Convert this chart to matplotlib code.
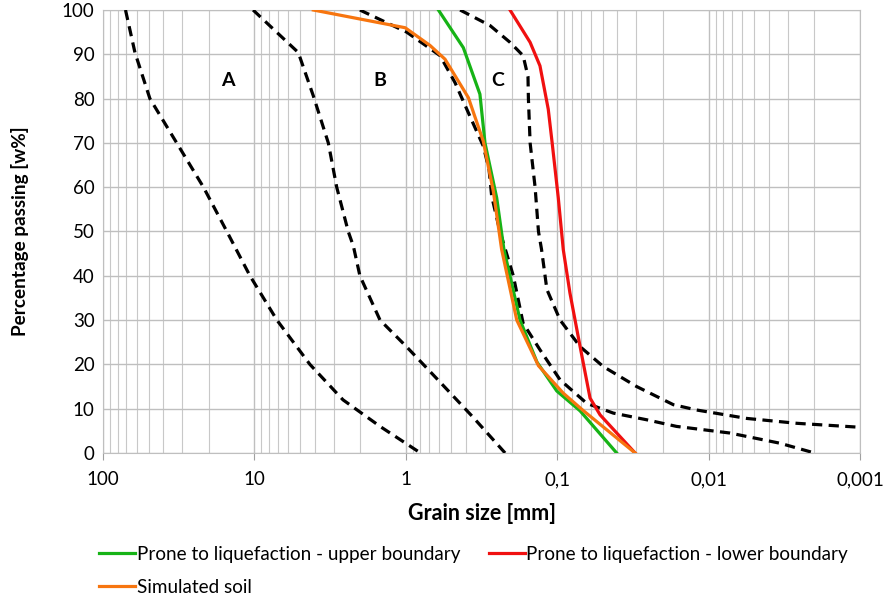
import numpy as np
import matplotlib
matplotlib.use('Agg')
import matplotlib.pyplot as plt
from matplotlib.ticker import LogLocator, FixedLocator, NullFormatter

plt.rcParams['font.family'] = ['Lato', 'DejaVu Sans']

# grading curves: grain size [mm] and percentage passing [w%]
a_size = [71, 61.5, 49, 32.6, 21.7, 15.2, 10.7, 7.1, 4.3, 2.6, 1.48, 0.80]
a_pass = [100, 90.4, 80, 70, 60, 50, 40, 30, 20, 12, 6, 0]

b_size = [10.2, 7.5, 5.13, 4.08, 3.25, 2.86, 2.40, 2.22, 2.01, 1.48, 0.99, 0.594, 0.358, 0.221]
b_pass = [100, 95.7, 90.4, 80.6, 70, 60, 50, 46.7, 40, 30, 24, 16, 8, 0]

c1_size = [2.01, 0.986, 0.594, 0.473, 0.377, 0.308, 0.282, 0.271, 0.239, 0.195, 0.168,
           0.130, 0.0957, 0.0638, 0.0426, 0.0257, 0.0163, 0.00723, 0.00338, 0.0020]
c1_pass = [100, 95, 89.7, 83.6, 76, 69.3, 64, 58, 50, 40, 29.3,
           23.3, 16.5, 11.2, 9, 7.5, 6, 4.5, 2.2, 0]

c2_size = [0.438, 0.278, 0.205, 0.168, 0.156, 0.155, 0.151, 0.140, 0.133, 0.127, 0.117,
           0.0957, 0.0706, 0.0496, 0.0299, 0.0171, 0.0120, 0.0056, 0.00262, 0.001]
c2_pass = [100, 96.5, 92.7, 89.7, 85, 80, 70, 60, 50, 46, 36.9,
           30, 24, 19.5, 15, 10.9, 9.7, 7.8, 6.7, 5.8]

upper_size = [0.609, 0.417, 0.324, 0.300, 0.251, 0.225, 0.176, 0.136, 0.1007,
              0.0706, 0.0405]
upper_pass = [100, 91.5, 81, 70, 57.6, 46, 30, 20.5, 14, 9.5, 0]

lower_size = [0.205, 0.151, 0.130, 0.1146, 0.108, 0.0984, 0.0912, 0.0824, 0.0706, 0.0607,
              0.0521, 0.0306]
lower_pass = [100, 92.7, 87.4, 77.6, 70, 57.6, 45.9, 36.1, 24, 12.4, 8.6, 0]

soil_size = [4.08, 1.01, 0.692, 0.551, 0.386, 0.308, 0.264, 0.233, 0.185, 0.133, 0.0912,
             0.0680, 0.0306]
soil_pass = [100, 96, 92, 88.9, 80.2, 70.4, 59, 46, 30, 19.7, 13.5, 9.7, 0]

zone_labels = ['A', 'B', 'C']
zone_x = [14.9, 1.48, 0.246]
zone_y = [84, 84, 84]

xticks = [100, 10, 1, 0.1, 0.01, 0.001]
xtick_labels = ['100', '10', '1', '0,1', '0,01', '0,001']

fig = plt.figure(figsize=(8.84, 6.03), dpi=100)
ax = fig.add_axes([0.1165, 0.2488, 0.8564, 0.7346])

dash = (0, (3.2, 2.0))
for xs, ys in [(a_size, a_pass), (b_size, b_pass), (c1_size, c1_pass), (c2_size, c2_pass)]:
    ax.plot(xs, ys, color='black', lw=2.3, linestyle=dash, zorder=3)

l_up, = ax.plot(upper_size, upper_pass, color='#16b316', lw=2.3, zorder=4,
                label='Prone to liquefaction - upper boundary')
l_low, = ax.plot(lower_size, lower_pass, color='#f01010', lw=2.3, zorder=4,
                 label='Prone to liquefaction - lower boundary')
l_soil, = ax.plot(soil_size, soil_pass, color='#f7750f', lw=2.3, zorder=5,
                  label='Simulated soil')

for t, x, y in zip(zone_labels, zone_x, zone_y):
    ax.text(x, y, t, fontsize=14, fontweight='bold', ha='center', va='center')

ax.set_xscale('log')
ax.set_xlim(100, 0.001)
ax.set_ylim(0, 100)
ax.xaxis.set_major_locator(FixedLocator(xticks))
ax.set_xticklabels(xtick_labels)
ax.xaxis.set_minor_locator(LogLocator(base=10, subs=np.arange(2, 10)))
ax.xaxis.set_minor_formatter(NullFormatter())
ax.set_yticks(np.arange(0, 101, 10))

ax.grid(True, which='major', color='#bfbfbf', lw=1.0)
ax.grid(True, which='minor', axis='x', color='#c8c8c8', lw=0.8)
ax.set_axisbelow(True)
for s in ax.spines.values():
    s.set_color('#bfbfbf')
ax.tick_params(axis='x', which='major', length=5, color='#a0a0a0', labelsize=13.5, pad=8)
ax.tick_params(axis='x', which='minor', length=0)
ax.tick_params(axis='y', length=0, labelsize=13.5, pad=6)

ax.set_xlabel('Grain size [mm]', fontsize=15.5, fontweight='bold', labelpad=11)
ax.set_ylabel('Percentage passing [w%]', fontsize=13.6, fontweight='bold', labelpad=24)

fig.legend(handles=[l_up, l_soil, l_low], ncol=2, loc='upper left',
           bbox_to_anchor=(0.112, 1 - 546 / 603), frameon=False, fontsize=13.6,
           borderpad=0, borderaxespad=0,
           handlelength=1.9, handletextpad=0.1, columnspacing=1.5,
           labelspacing=0.85)

fig.savefig('out.png', dpi=100)
